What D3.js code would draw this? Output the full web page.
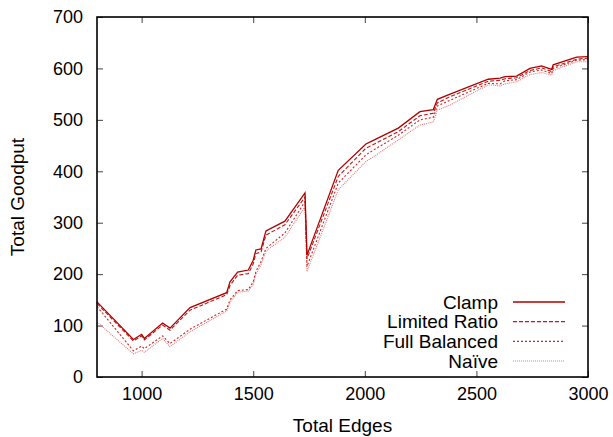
<!DOCTYPE html>
<html>
<head>
<meta charset="utf-8">
<script src="https://cdn.jsdelivr.net/npm/d3@7"></script>
<style>
    body { margin: 0; background: #fff; }
    text { font-family: "Liberation Sans", Arial, Helvetica, sans-serif; }
</style>
</head>
<body>
<div id="chart"></div>
<script>
const width = 613,
    height = 437,
    plotLeft = 97,
    plotRight = 588,
    plotTop = 17,
    plotBottom = 377;

// data
const edges = [800, 963, 1000, 1012, 1094, 1127, 1217, 1381, 1396, 1430, 1478, 1500, 1512, 1535, 1557, 1642, 1732, 1741, 1881, 2005, 2038, 2150, 2247, 2307, 2325, 2382, 2553, 2606, 2628, 2680, 2740, 2792, 2837, 2844, 2949, 3000];
const clamp = [146, 73, 83, 75, 105, 95, 135, 164, 185, 204, 208, 227, 247, 249, 284, 303, 358, 237, 402, 453, 460, 484, 516, 520, 540, 550, 579, 581, 584, 585, 600, 605, 598, 607, 622, 623];
const limitedRatio = [143, 70, 80, 72, 101, 91, 130, 160, 178, 198, 201, 220, 240, 243, 276, 296, 350, 230, 390, 445, 452, 477, 508, 513, 533, 545, 575, 577, 580, 582, 596, 601, 594, 603, 618, 620];
const fullBalanced = [137, 51, 60, 55, 80, 65, 93, 132, 150, 168, 170, 185, 205, 225, 250, 280, 341, 215, 377, 432, 441, 470, 500, 505, 527, 538, 571, 570, 576, 578, 593, 597, 590, 600, 616, 617];
const naive = [107, 45, 52, 48, 75, 59, 88, 128, 145, 165, 167, 180, 200, 218, 245, 272, 331, 205, 364, 419, 428, 461, 490, 496, 519, 529, 568, 566, 570, 574, 588, 592, 587, 596, 613, 613];
const seriesNames = ["Clamp", "Limited Ratio", "Full Balanced", "Naïve"];
const xTicks = [1000, 1500, 2000, 2500, 3000];
const yTicks = [0, 100, 200, 300, 400, 500, 600, 700];

const series = [
    { name: seriesNames[0], values: clamp, color: "#b00000", dash: null, w: 1.3 },
    { name: seriesNames[1], values: limitedRatio, color: "#c01818", dash: "4,2", w: 1.1 },
    { name: seriesNames[2], values: fullBalanced, color: "#d02424", dash: "2,2", w: 1.1 },
    { name: seriesNames[3], values: naive, color: "#e87878", dash: "1,1", w: 1.1 }
];

const svg = d3.select("#chart").append("svg")
    .attr("width", width)
    .attr("height", height);

const x = d3.scaleLinear().domain([800, 3000]).range([plotLeft, plotRight]);
const y = d3.scaleLinear().domain([0, 700]).range([plotBottom, plotTop]);

// axes, ticks pointing inward like gnuplot
svg.append("g")
    .attr("transform", "translate(0," + plotBottom + ")")
    .call(d3.axisBottom(x).tickValues(xTicks).tickSize(-6).tickSizeOuter(0).tickPadding(10).tickFormat(d3.format("d")))
    .call(g => g.selectAll("text").attr("font-size", 18).attr("fill", "#000").attr("font-family", "Liberation Sans, Arial"));
svg.append("g")
    .attr("transform", "translate(0," + plotTop + ")")
    .call(d3.axisTop(x).tickValues(xTicks).tickSize(-6).tickSizeOuter(0).tickFormat(""));
svg.append("g")
    .attr("transform", "translate(" + plotLeft + ",0)")
    .call(d3.axisLeft(y).tickValues(yTicks).tickSize(-6).tickSizeOuter(0).tickPadding(14).tickFormat(d3.format("d")))
    .call(g => g.selectAll("text").attr("font-size", 18).attr("fill", "#000").attr("font-family", "Liberation Sans, Arial"));
svg.append("g")
    .attr("transform", "translate(" + plotRight + ",0)")
    .call(d3.axisRight(y).tickValues(yTicks).tickSize(-6).tickSizeOuter(0).tickFormat(""));

svg.selectAll(".tick line").attr("stroke", "#444");
svg.selectAll(".domain").attr("stroke", "none");

// lines
const line = d3.line()
    .x((d, i) => x(edges[i]))
    .y(d => y(d));

svg.append("g")
    .selectAll("path")
    .data(series.slice().reverse())
    .enter()
    .append("path")
    .attr("d", d => line(d.values))
    .attr("fill", "none")
    .attr("stroke", d => d.color)
    .attr("stroke-width", d => d.w)
    .attr("stroke-dasharray", d => d.dash);

// frame
svg.append("rect")
    .attr("x", plotLeft)
    .attr("y", plotTop)
    .attr("width", plotRight - plotLeft)
    .attr("height", plotBottom - plotTop)
    .attr("fill", "none")
    .attr("stroke", "#000")
    .attr("stroke-width", 1.6);

// legend
const legend = svg.append("g").attr("id", "legend");
const rowY = d3.scalePoint().domain(seriesNames).range([302, 361]);
series.forEach(s => {
    legend.append("text")
        .attr("x", 498)
        .attr("y", rowY(s.name) + 6.5)
        .attr("text-anchor", "end")
        .attr("font-size", 19)
        .text(s.name);
    legend.append("line")
        .attr("x1", 513)
        .attr("x2", 565)
        .attr("y1", rowY(s.name))
        .attr("y2", rowY(s.name))
        .attr("stroke", s.color)
        .attr("stroke-width", s.w)
        .attr("stroke-dasharray", s.dash);
});

// axis labels
svg.append("text")
    .attr("x", (plotLeft + plotRight) / 2)
    .attr("y", 432)
    .attr("text-anchor", "middle")
    .attr("font-size", 19)
    .text("Total Edges");
svg.append("text")
    .attr("transform", "translate(24," + (plotTop + plotBottom) / 2 + ") rotate(-90)")
    .attr("text-anchor", "middle")
    .attr("font-size", 19)
    .text("Total Goodput");
</script>
</body>
</html>
